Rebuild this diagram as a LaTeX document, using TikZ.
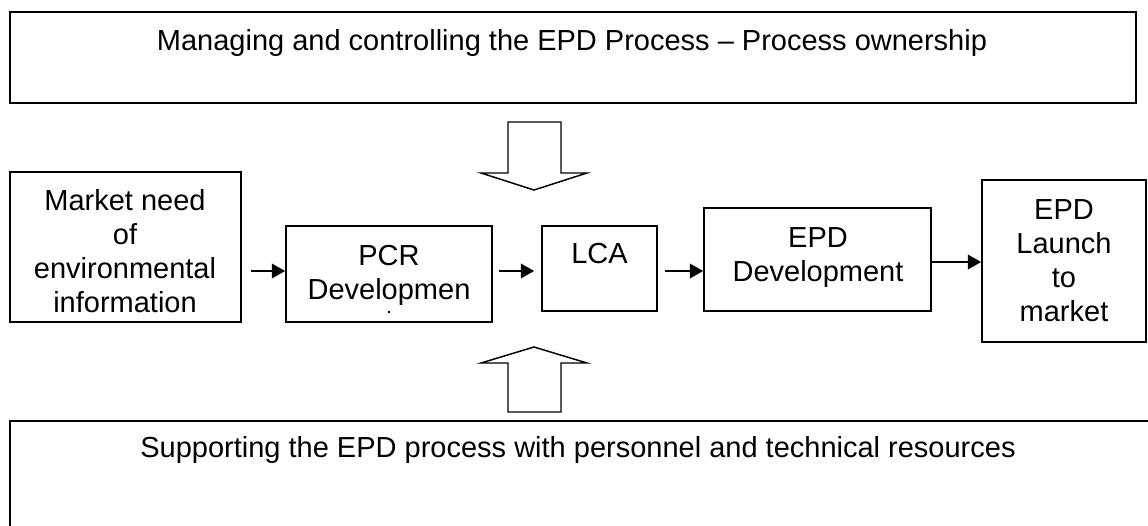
\documentclass[tikz,border=0pt]{standalone}
\usepackage{fontspec}
\setmainfont{Liberation Sans}
\usetikzlibrary{arrows.meta}
\begin{document}
\begin{tikzpicture}[x=0.75pt,y=-0.75pt,
  box/.style={draw=black, line width=1.3pt, rectangle, inner sep=0pt},
  txt/.style={font=\fontsize{21.75pt}{25.5pt}\selectfont, align=center, inner sep=0pt},
  conn/.style={line width=1.3pt, -{Triangle[length=10pt,width=11pt]}},
  blockarrow/.style={draw=black, line width=1.1pt, line join=miter, fill=white}]
\useasboundingbox (0,0) rectangle (1148,525);
% boxes
\node[box, minimum width=1126*0.75pt, minimum height=91*0.75pt] (top) at (573,57.5) {};
\node[box, minimum width=231*0.75pt, minimum height=150*0.75pt] (mkt) at (125.5,247) {};
\node[box, minimum width=206*0.75pt, minimum height=96*0.75pt] (pcr) at (389,274) {};
\node[box, minimum width=115*0.75pt, minimum height=85*0.75pt] (lca) at (599.5,268.5) {};
\node[box, minimum width=227*0.75pt, minimum height=103*0.75pt] (epd) at (817.5,259.5) {};
\node[box, minimum width=164*0.75pt, minimum height=162*0.75pt] (lau) at (1064,261) {};
\node[box, minimum width=1150*0.75pt, minimum height=119*0.75pt] (bot) at (585,480.5) {};
% texts
\node[txt, anchor=base] (toptxt) at (572,50) {Managing and controlling the EPD Process – Process ownership};
\node[txt] (mkttxt) at (125,251) {Market need\\of\\environmental\\information};
\node[txt] (pcrtxt) at (389,275.5) {PCR\\Developmen};
\fill (387.5,311) rectangle (389.5,313);
\node[txt, anchor=base] (lcatxt) at (599.5,263) {LCA};
\node[txt] (epdtxt) at (818,258) {EPD\\Development};
\node[txt] (lautxt) at (1064,261) {EPD\\Launch\\to\\market};
\node[txt, anchor=base] (bottxt) at (578,457) {Supporting the EPD process with personnel and technical resources};
% block arrows
\draw[blockarrow] (508,122) -- (561,122) -- (561,173) -- (587,173) -- (534,190) -- (481,173) -- (508,173) -- cycle;
\draw[blockarrow] (508,412) -- (561,412) -- (561,363) -- (587,363) -- (534,347) -- (481,363) -- (508,363) -- cycle;
% connectors
\coordinate (r1) at (0,271);
\coordinate (r2) at (0,262);
\draw[conn, shorten <=6.75pt] (mkt.east |- r1) -- (pcr.west |- r1);
\draw[conn, shorten <=4.5pt, shorten >=5.25pt] (pcr.east |- r1) -- (lca.west |- r1);
\draw[conn, shorten <=5.25pt] (lca.east |- r1) -- (epd.west |- r1);
\draw[conn] (epd.east |- r2) -- (lau.west |- r2);
\end{tikzpicture}
\end{document}
